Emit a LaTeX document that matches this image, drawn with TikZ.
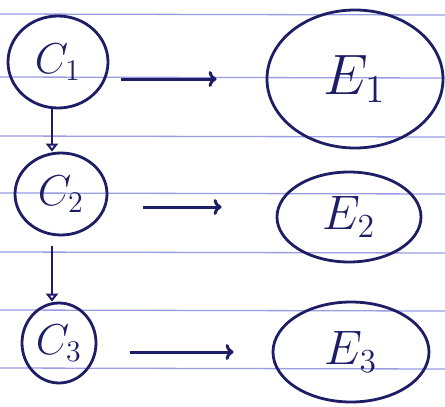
\documentclass[tikz,border=0pt]{standalone}
\usepackage{graphicx}
\usetikzlibrary{shapes.geometric,arrows.meta}
\definecolor{ink}{HTML}{1E1E66}
\definecolor{rule}{HTML}{9C9CE4}
\newcommand{\clab}[1]{\scalebox{2.5}{$#1$}}
\newcommand{\elab}[2]{\scalebox{#1}{$#2$}}
\begin{document}
\begin{tikzpicture}[x=1pt,y=-1pt,
  ink/.style={draw=ink,line width=2.8pt},
  cnode/.style={ink,ellipse,inner sep=0pt,text=ink,font=\LARGE},
  enode/.style={ink,ellipse,inner sep=0pt,text=ink,font=\LARGE},
  conn/.style={draw=ink,line width=3pt,-{To[length=8pt,width=16pt]}},
  vconn/.style={draw=ink,line width=2.2pt,-{Triangle[open,length=8pt,width=12pt]}},
  paperline/.style={draw=rule,line width=1.3pt}]
\useasboundingbox (0,0) rectangle (445,407);
\fill[white] (0,0) rectangle (445,407);
\foreach \yy in {14,77,136,193,252,310,368}
  \draw[paperline] (0,\yy) -- (445,\yy+1);
\node[cnode,minimum width=100pt,minimum height=92pt] (C1) at (58,62) {\clab{C_1}};
\node[enode,minimum width=176pt,minimum height=138pt] (E1) at (355,79) {\elab{3.3}{E_1}};
\node[cnode,minimum width=92pt,minimum height=82pt] (C2) at (61,194) {\clab{C_2}};
\node[enode,minimum width=144pt,minimum height=90pt] (E2) at (349,217) {\elab{2.8}{E_2}};
\node[cnode,minimum width=74pt,minimum height=80pt] (C3) at (59,343) {\clab{C_3}};
\node[enode,minimum width=156pt,minimum height=100pt] (E3) at (351,352) {\elab{2.8}{E_3}};
\draw[conn,shorten <=12pt,shorten >=49pt] (C1.east |- E1.west) -- (E1.west);
\draw[conn,shorten <=35pt,shorten >=54pt] ([yshift=10pt]C2.east |- E2.west) -- ([yshift=10pt]E2.west);
\draw[conn,shorten <=33pt,shorten >=38pt] (C3.east |- E3.west) -- (E3.west);
\draw[vconn] ([xshift=-6pt]C1.south) -- ([xshift=-6pt]C1.south |- C2.north);
\draw[vconn,shorten <=10pt] ([xshift=-9pt]C2.south) -- ([xshift=-9pt]C2.south |- C3.north);
\end{tikzpicture}
\end{document}
